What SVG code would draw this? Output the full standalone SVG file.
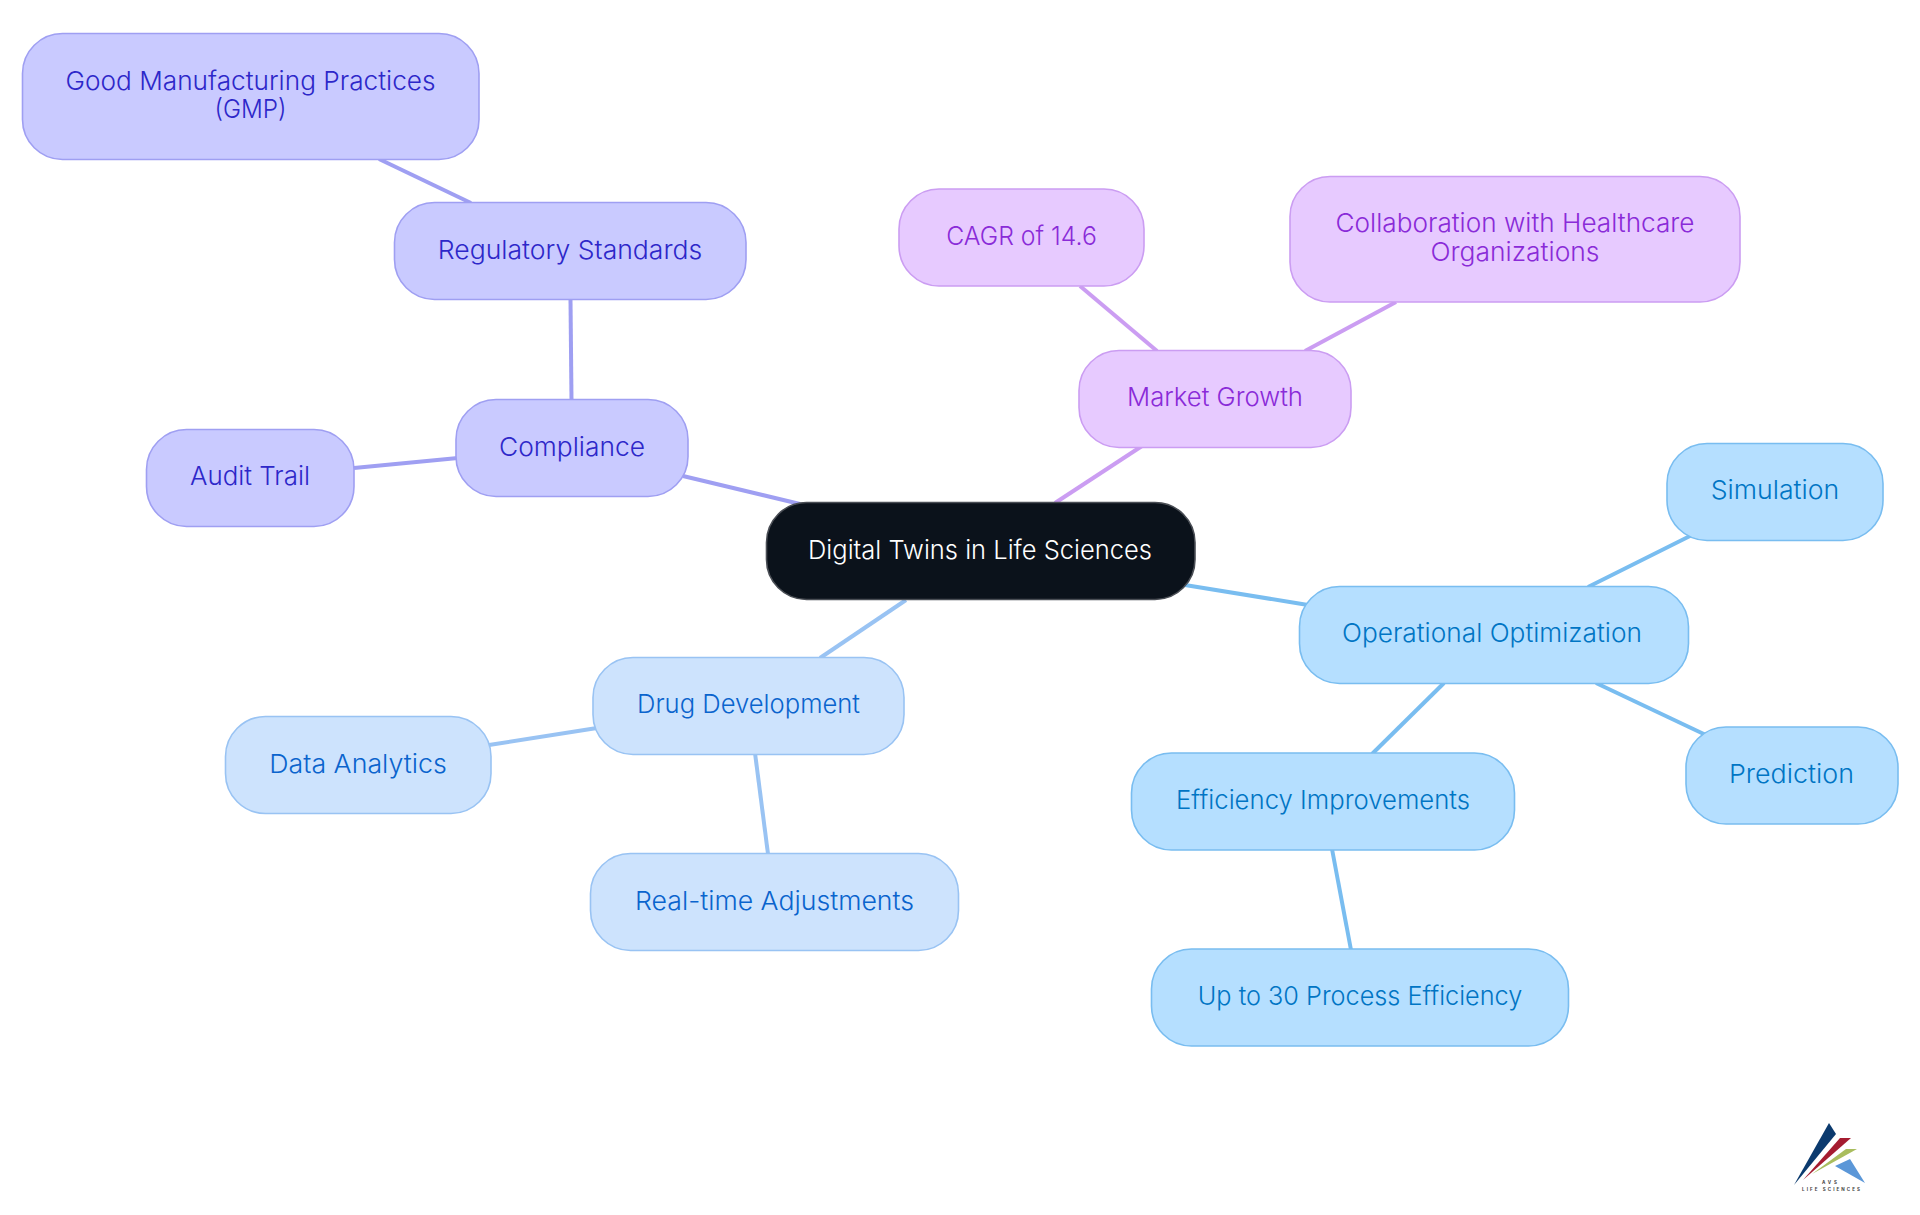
<svg xmlns="http://www.w3.org/2000/svg" width="1920" height="1215" viewBox="0 0 1920 1215">
<style>
text{font-family:"Inter","Noto Sans","Liberation Sans",sans-serif;font-size:26px;font-weight:300;text-anchor:middle}
.n rect{stroke-width:1.6}
.c line{stroke-width:4;fill:none}
.li{stroke:#9f9ff2}.lp{stroke:#cb9df2}.ls{stroke:#79bdf0}.lb{stroke:#99c3f3}
.ind rect{fill:#c9caff;stroke:#9f9ff2}.ind text{fill:#2d27c9}
.pur rect{fill:#e7caff;stroke:#cb9df2}.pur text{fill:#8a2bd8}
.sky rect{fill:#b5dfff;stroke:#79bdf0}.sky text{fill:#0075c4}
.blu rect{fill:#cde3fd;stroke:#99c3f3}.blu text{fill:#0a64cd}
.logo text{fill:#444;font-size:4.5px;font-weight:700}
</style>
<rect width="1920" height="1215" fill="#fff"/>
<g id="connectors" class="c">
<line class="li" x1="572" y1="450" x2="570" y2="250"/>
<line class="li" x1="379" y1="159" x2="471" y2="203"/>
<line class="li" x1="354" y1="468" x2="458" y2="458"/>
<line class="li" x1="683" y1="476" x2="800" y2="504"/>
<line class="lp" x1="1055" y1="503" x2="1142" y2="446"/>
<line class="lp" x1="1157" y1="351" x2="1080" y2="286"/>
<line class="lp" x1="1305" y1="351" x2="1396" y2="302"/>
<line class="ls" x1="1185" y1="585" x2="1308" y2="605"/>
<line class="ls" x1="1588" y1="587" x2="1692" y2="535"/>
<line class="ls" x1="1596" y1="683" x2="1708" y2="736"/>
<line class="ls" x1="1444" y1="683" x2="1372" y2="754"/>
<line class="ls" x1="1332" y1="849" x2="1351" y2="950"/>
<line class="lb" x1="906" y1="600" x2="820" y2="658"/>
<line class="lb" x1="597" y1="728" x2="489" y2="745"/>
<line class="lb" x1="755" y1="753" x2="768" y2="854"/>
</g>
<g id="root" class="n"><rect x="766.5" y="502.5" width="428.500" height="97" rx="40" fill="#0b121b" stroke="#4a4e55"/><text x="980" y="558.500" fill="#fff" textLength="344" lengthAdjust="spacingAndGlyphs">Digital Twins in Life Sciences</text></g>
<g id="compliance" class="n ind"><rect x="456" y="399.500" width="232" height="97" rx="40"/><text x="572" y="456" textLength="146" lengthAdjust="spacingAndGlyphs">Compliance</text></g>
<g id="regulatory" class="n ind"><rect x="394.500" y="202.500" width="351.500" height="97" rx="40"/><text x="570" y="259" textLength="264.500" lengthAdjust="spacingAndGlyphs">Regulatory Standards</text></g>
<g id="gmp" class="n ind"><rect x="22.500" y="33.500" width="456.500" height="126" rx="40"/><text x="250.500" y="90" textLength="370" lengthAdjust="spacingAndGlyphs">Good Manufacturing Practices</text><text x="250.500" y="118" textLength="72" lengthAdjust="spacingAndGlyphs">(GMP)</text></g>
<g id="audit" class="n ind"><rect x="146.500" y="429.500" width="207.500" height="97" rx="40"/><text x="250" y="485" textLength="120" lengthAdjust="spacingAndGlyphs">Audit Trail</text></g>
<g id="market" class="n pur"><rect x="1079" y="350.500" width="272" height="97" rx="40"/><text x="1215" y="406" textLength="176" lengthAdjust="spacingAndGlyphs">Market Growth</text></g>
<g id="cagr" class="n pur"><rect x="899" y="189" width="245" height="97" rx="40"/><text x="1021.500" y="245" textLength="150.600" lengthAdjust="spacingAndGlyphs">CAGR of 14.6</text></g>
<g id="collab" class="n pur"><rect x="1290" y="176.500" width="450" height="125.500" rx="40"/><text x="1515" y="232" textLength="359" lengthAdjust="spacingAndGlyphs">Collaboration with Healthcare</text><text x="1515" y="261" textLength="169" lengthAdjust="spacingAndGlyphs">Organizations</text></g>
<g id="operational" class="n sky"><rect x="1299.500" y="586.500" width="389" height="97" rx="40"/><text x="1492" y="641.500" textLength="300" lengthAdjust="spacingAndGlyphs">Operational Optimization</text></g>
<g id="simulation" class="n sky"><rect x="1667" y="443.500" width="216" height="97" rx="40"/><text x="1775" y="499" textLength="128.600" lengthAdjust="spacingAndGlyphs">Simulation</text></g>
<g id="prediction" class="n sky"><rect x="1686" y="727" width="212" height="97" rx="40"/><text x="1791.500" y="783" textLength="125" lengthAdjust="spacingAndGlyphs">Prediction</text></g>
<g id="efficiency" class="n sky"><rect x="1131.500" y="753" width="383" height="97" rx="40"/><text x="1323" y="809" textLength="294" lengthAdjust="spacingAndGlyphs">Efficiency Improvements</text></g>
<g id="upto" class="n sky"><rect x="1151.500" y="949" width="417" height="97" rx="40"/><text x="1360" y="1005" textLength="324.500" lengthAdjust="spacingAndGlyphs">Up to 30 Process Efficiency</text></g>
<g id="drug" class="n blu"><rect x="593" y="657.500" width="311" height="97" rx="40"/><text x="748.500" y="713" textLength="223" lengthAdjust="spacingAndGlyphs">Drug Development</text></g>
<g id="data" class="n blu"><rect x="225.500" y="716.500" width="265.500" height="97" rx="40"/><text x="358" y="773" textLength="177.500" lengthAdjust="spacingAndGlyphs">Data Analytics</text></g>
<g id="realtime" class="n blu"><rect x="590.500" y="853.500" width="368" height="97" rx="40"/><text x="774.500" y="910" textLength="279" lengthAdjust="spacingAndGlyphs">Real-time Adjustments</text></g>
<g id="logo" class="logo">
<polygon points="1829,1123 1836,1134 1794,1185" fill="#0b3a6e"/>
<polygon points="1840,1138 1851,1138 1803,1180" fill="#a51c30"/>
<polygon points="1846,1149 1857,1149 1812,1174" fill="#a9bd5e"/>
<polygon points="1850,1159 1835,1166 1865,1183" fill="#5b97d8"/>
<text x="1829.500" y="1184" textLength="15" lengthAdjust="spacing">AVS</text>
<text x="1831" y="1191" textLength="58" lengthAdjust="spacing">LIFE SCIENCES</text>
</g>
</svg>
